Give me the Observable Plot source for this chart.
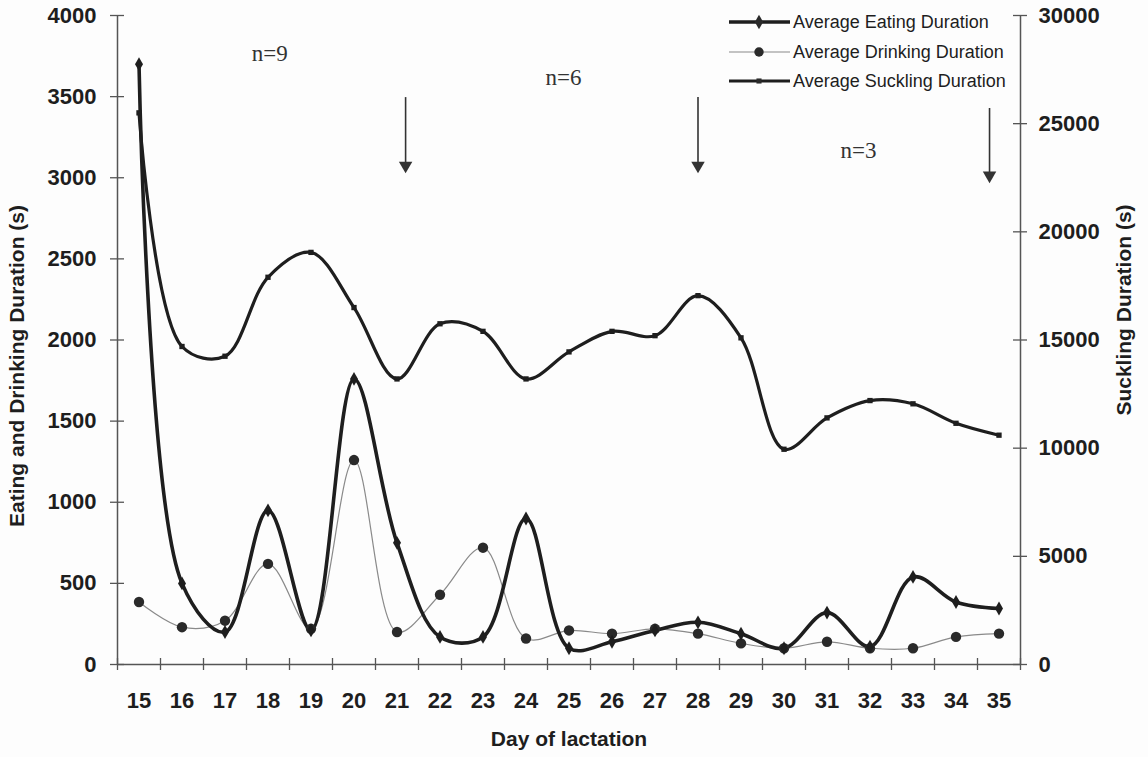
<!DOCTYPE html>
<html><head><meta charset="utf-8">
<script src="https://cdn.jsdelivr.net/npm/d3@7"></script>
<script src="https://cdn.jsdelivr.net/npm/@observablehq/plot@0.6"></script>
<style>
html,body{margin:0;padding:0;background:#fdfdfd;}
#wrap{position:relative;width:1148px;height:757px;}
#legend{position:absolute;left:0;top:0;pointer-events:none;}
</style></head><body><div id="wrap"></div>
<script>
// ---- data ----
const days = [15,16,17,18,19,20,21,22,23,24,25,26,27,28,29,30,31,32,33,34,35];
const eating = [3700,500,200,950,210,1760,750,170,170,900,100,140,210,260,190,100,320,110,540,385,345];
const drinking = [385,230,270,620,220,1260,200,430,720,160,210,190,220,190,130,100,140,100,100,170,190];
const suckling = [25500,14700,14250,17900,19050,16500,13200,15750,15400,13200,14450,15400,15200,17050,15100,9950,11400,12200,12050,11150,10600];
const leftTicks = [0,500,1000,1500,2000,2500,3000,3500,4000];
const rightTicks = [0,5000,10000,15000,20000,25000,30000];
const seriesNames = ["Average Eating Duration","Average Drinking Duration","Average Suckling Duration"];
const groupLabels = ["n=9","n=6","n=3"];
const groupDay = [18.04,24.87,31.73];
const groupLevel = [3766,3618,3168];
const arrowDay = [21.2,28.0,34.78];
const arrowTop = [3494,3494,3427];
const arrowTip = [3032,3032,2971];

const ratio = 4000/30000;
const rows = days.map((d,i)=>({day:d, eating:eating[i], drinking:drinking[i], suckling:suckling[i]*ratio}));
const xMin = days[0]-0.5, xMax = days[days.length-1]+0.5;
const bounds = days.map(d=>d-0.5).concat([xMax]);
const groups = groupLabels.map((t,i)=>({t, x:groupDay[i], y:groupLevel[i]}));
const arrows = arrowDay.map((x,i)=>({x, top:arrowTop[i], tip:arrowTip[i]}));

const ink = "#1e1e1e", axisInk = "#555";
const font = "'Liberation Sans', Arial, sans-serif";

const chart = Plot.plot({
  width:1148, height:757,
  marginLeft:117, marginRight:128, marginTop:15, marginBottom:93,
  style:{fontFamily:font, fontSize:"22px", fontWeight:"bold", background:"transparent", color:ink},
  x:{domain:[xMin,xMax]},
  y:{domain:[0,4000]},
  marks:[
    // axis lines
    Plot.ruleX([xMin,xMax], {y1:0, y2:4000, stroke:axisInk, strokeWidth:1.5}),
    Plot.ruleY([0], {x1:xMin, x2:xMax, stroke:axisInk, strokeWidth:1.5}),
    // crossing tick marks
    Plot.ruleY(leftTicks, {y:d=>d, x1:xMin, x2:xMin, insetLeft:-7, insetRight:-7, stroke:axisInk, strokeWidth:1.3}),
    Plot.ruleY(rightTicks.map(v=>v*ratio), {y:d=>d, x1:xMax, x2:xMax, insetLeft:-7, insetRight:-7, stroke:axisInk, strokeWidth:1.3}),
    Plot.ruleX(bounds, {x:d=>d, y1:0, y2:0, insetTop:-6, insetBottom:-6, stroke:axisInk, strokeWidth:1.3}),
    // tick labels
    Plot.axisY(leftTicks, {anchor:"left", tickSize:0, tickPadding:21, label:null, fontSize:22, fontWeight:"bold", tickFormat:d=>String(d)}),
    Plot.axisY(rightTicks.map(v=>v*ratio), {anchor:"right", tickSize:0, tickPadding:18, label:null, fontSize:22, fontWeight:"bold",
      tickFormat:d=>String(Math.round(d/ratio))}),
    Plot.axisX(days, {anchor:"bottom", tickSize:0, tickPadding:28, label:null, fontSize:22, fontWeight:"bold", tickFormat:d=>String(d)}),
    // axis titles
    Plot.text(["Eating and Drinking Duration (s)"], {frameAnchor:"left", textAnchor:"middle", lineAnchor:"middle", rotate:-90, dx:-100, dy:26, fontSize:21, fontWeight:"bold", fill:ink}),
    Plot.text(["Suckling Duration (s)"], {frameAnchor:"right", textAnchor:"middle", lineAnchor:"middle", rotate:-90, dx:104, dy:-30, fontSize:21, fontWeight:"bold", fill:ink}),
    Plot.text(["Day of lactation"], {frameAnchor:"bottom", textAnchor:"middle", lineAnchor:"middle", dy:75, fontSize:21, fontWeight:"bold", fill:ink}),
    // series lines
    Plot.line(rows, {x:"day", y:"drinking", curve:"catmull-rom", stroke:"#8a8a8a", strokeWidth:1.2}),
    Plot.line(rows, {x:"day", y:"suckling", curve:"catmull-rom", stroke:ink, strokeWidth:3.2}),
    Plot.line(rows, {x:"day", y:"eating", curve:"catmull-rom", stroke:ink, strokeWidth:3.6}),
    // markers
    Plot.dot(rows, {x:"day", y:"drinking", r:5.2, fill:"#2a2a2a", stroke:"none"}),
    Plot.dot(rows, {x:"day", y:"suckling", symbol:"square", r:3, fill:ink}),
    Plot.dot(rows, {x:"day", y:"eating", symbol:"diamond", r:4.2, fill:ink}),
    // annotations
    Plot.text(groups, {x:"x", y:"y", text:"t", fontFamily:"'Liberation Serif', 'Times New Roman', serif", fontWeight:"normal", fontSize:23, fill:"#333"}),
    Plot.ruleX(arrows, {x:"x", y1:"top", y2:"tip", insetBottom:8, stroke:"#333", strokeWidth:1.6}),
    Plot.dot(arrows, {x:"x", y:"tip", dy:-7, symbol:"triangle", rotate:180, r:5, fill:"#333", stroke:"none"})
  ]
});
document.getElementById("wrap").appendChild(chart);

// ---- legend (inside the plot, top right) ----
const lg = d3.select("#wrap").append("svg").attr("id","legend").attr("width",1148).attr("height",110);
const legendStyles = [
  {w:3.6, c:ink, sym:d3.symbolDiamond, size:60},
  {w:1.2, c:"#8a8a8a", sym:d3.symbolCircle, size:70},
  {w:3.2, c:ink, sym:d3.symbolSquare, size:26}
];
const rowY = [22,52,81];
seriesNames.forEach((name,i)=>{
  const g = lg.append("g").attr("transform",`translate(0,${rowY[i]})`);
  g.append("line").attr("x1",729).attr("x2",790).attr("y1",0).attr("y2",0)
    .attr("stroke",legendStyles[i].c).attr("stroke-width",legendStyles[i].w);
  g.append("path").attr("d",d3.symbol(legendStyles[i].sym, legendStyles[i].size)())
    .attr("transform","translate(759,0)").attr("fill","#2a2a2a");
  g.append("text").attr("x",793).attr("y",0).attr("dy","0.35em")
    .attr("font-family",font).attr("font-size",18).attr("fill",ink).text(name);
});
</script></body></html>
